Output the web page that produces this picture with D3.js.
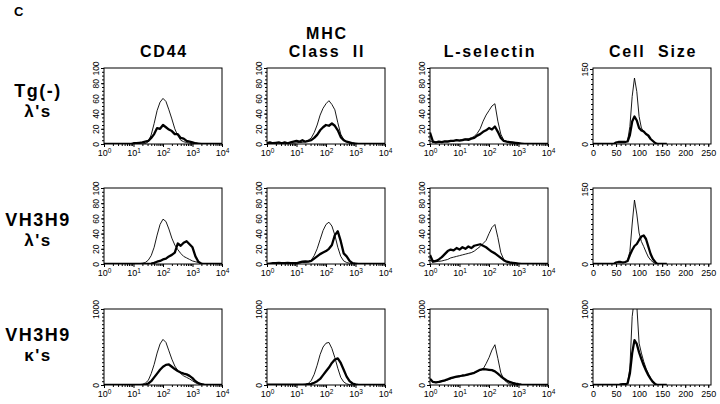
<!DOCTYPE html>
<html lang="en">
<head>
<meta charset="UTF-8">
<title>Panel C histograms</title>
<script src="https://d3js.org/d3.v7.min.js"></script>
<style>
  html, body { margin: 0; background: #fff; }
  svg { display: block; font-family: "Liberation Sans", Arial, sans-serif; }
  .title { font-weight: bold; font-size: 16px; letter-spacing: 1.8px; white-space: pre; }
  .rowlab { font-weight: bold; font-size: 18px; letter-spacing: 1.5px; }
  .tick text { font-size: 9px; fill: #000; font-family: "Liberation Sans", Arial, sans-serif; }
  .ylab .tick text { font-size: 8.5px; }
  .tick line { stroke: #000; }
</style>
</head>
<body>
<svg id="chart" width="720" height="404"></svg>
<script>
// column headers and row labels
const columnTitles = [["CD44"], ["MHC", "Class  II"], ["L-selectin"], ["Cell  Size"]];
const rowLabels = [["Tg(-)", "\u03bb's"], ["VH3H9", "\u03bb's"], ["VH3H9", "\u03ba's"]];

// channel grids: log panels 10^0..10^4 in 0.1 decade steps, cell size 0..160 in steps of 5
const logBins = d3.range(0, 41).map(i => Math.pow(10, i / 10));
const sizeBins = d3.range(0, 33).map(i => i * 5);

// row 1: Tg(-) lambda's  (thin = control, thick = stained)
const cd44TgThin   = [0,0,0,0,0,0,0,0,0,0, 0,0,0,0,0.5,3,12,27,44,55, 60,56,45,33,20,11,5,3,2,1, 0.5,0,0,0,0,0,0,0,0,0,0];
const cd44TgThick  = [0,0,0,0,0,0,0,0,0,0, 1,1,1.5,2,3,4,8,13,21,20, 25,22,19,17,13,13,8,7,4,3, 2,1,0.5,0,0,0,0,0,0,0,0];
const mhcTgThin    = [0,0.5,1,1,1.5,1,1,1,1.5,1, 1.5,2,2,3,5,8,15,25,38,47, 53,57,52,45,28,13,6,3,1,0.5, 0,0,0,0,0,0,0,0,0,0,0];
const mhcTgThick   = [1,2,1,1.5,2,1,2,1,2,3, 4,3,5,3,4,5,8,12,18,22, 25,24,27,24,18,9,5,3,2,1, 0.5,0,0,0,0,0,0,0,0,0,0];
const lselTgThin   = [4,2,2,3,3,3.5,4,4,4.5,5, 5,6,6.5,7,8,10,14,20,30,38, 44,50,53,30,13,5,3,1.5,1,0.5, 0,0,0,0,0,0,0,0,0,0,0];
const lselTgThick  = [15,3,2,3,2.5,3.5,3,4,4,5, 4.5,5,6,5.5,7,8,11,13,16,18, 21,19,23,16,8,4,3,2.5,2,1.5, 1,0.5,0,0,0,0,0,0,0,0,0];
const sizeTgThin   = [0,0,0,0,0,0,0,0,0,0, 3,4,4,4,4,6,35,95,132,105, 55,32,25,20,15,10,5,2,0,0, 0,0,0];
const sizeTgThick  = [0,0,0,0,0,0,0,0,0,0, 3,4,4,4,4,5,18,45,55,47, 32,27,25,20,17,10,6,2,0,0, 0,0,0];

// row 2: VH3H9 lambda's
const cd44LamThin  = [0,0,0,0,0,0,0,0,0,0, 0,0,0.5,1,2,5,11,22,38,52, 59,56,46,34,25,19,14,10,8,6, 4,3,2,1,0.5,0,0,0,0,0,0];
const cd44LamThick = [0,0,0,0,0,0,0,0,0,0, 0,0,0,0,0,0,0.5,1.5,3,4, 6,7,10,12,15,27,24,28,30,26, 22,10,3,0.5,0,0,0,0,0,0,0];
const mhcLamThin   = [0,0.5,0.5,0.5,0.5,1,1.5,1,1,1.5, 1,1.5,2,2,3,5,11,20,32,44, 52,55,50,38,22,10,4,2,1,0.5, 0,0,0,0,0,0,0,0,0,0,0];
const mhcLamThick  = [0,0.5,1,1,1.5,1,1,1.5,1,1, 1,2,3,3.5,3,4,7,10,13,15, 17,20,25,38,43,30,14,10,4,1, 0.5,0,0,0,0,0,0,0,0,0,0];
const lselLamThin  = [5,3,3,3.5,4,5,6,8,9,10, 11,12,13,14,15,17,20,23,27,31, 40,48,52,35,15,6,3,1.5,1,0.5, 0,0,0,0,0,0,0,0,0,0,0];
const lselLamThick = [12,3,4,6,9,13,17,19,18,21, 19,22,20,23,21,24,25,26,24,22, 19,16,14,11,8,5,3,2,1.5,1, 0.5,0,0,0,0,0,0,0,0,0,0];
const sizeLamThin  = [0,0,0,0,0,0,0,0,0,0, 3,4,4,3,4,6,25,80,128,100, 62,45,35,24,14,8,4,1,0,0, 0,0,0];
const sizeLamThick = [0,0,0,0,0,0,0,0,0,0, 3,4,4,3,4,6,18,28,36,40, 48,55,57,50,35,20,10,4,0,0, 0,0,0];

// row 3: VH3H9 kappa's
const cd44KapThin  = [0,0,0,0,0,0,0,0,0,0, 0,0,5,10,25,60,150,270,420,540, 600,560,450,340,250,190,150,120,100,80, 55,30,12,5,2,0,0,0,0,0,0];
const cd44KapThick = [0,0,0,0,0,0,0,0,0,0, 0,0,0,0,5,20,50,100,150,200, 240,265,270,240,210,185,165,150,140,120, 90,50,25,10,5,2,0,0,0,0,0];
const mhcKapThin   = [5,4,5,6,5,4,5,6,5,5, 6,5,6,10,20,60,140,260,400,500, 550,560,480,360,220,100,40,15,5,2, 0,0,0,0,0,0,0,0,0,0,0];
const mhcKapThick  = [5,5,6,5,4,5,6,5,5,6, 5,6,5,5,10,15,30,50,80,130, 180,230,290,335,350,290,200,110,50,20, 8,3,0,0,0,0,0,0,0,0,0];
const lselKapThin  = [80,40,30,35,45,55,65,80,95,105, 115,120,125,135,145,160,175,195,210,280, 360,460,530,350,160,80,35,15,8,4, 2,0,0,0,0,0,0,0,0,0,0];
const lselKapThick = [80,40,35,40,50,60,75,90,100,110, 115,125,130,140,150,160,180,200,210,205, 200,195,180,150,115,85,60,40,28,18, 10,5,2,0,0,0,0,0,0,0,0];
const sizeKapThin  = [0,0,0,0,0,0,0,0,0,0, 0,0,8,10,10,25,220,900,1150,1050, 550,420,310,220,150,90,45,15,0,0, 0,0,0];
const sizeKapThick = [0,0,0,0,0,0,0,0,0,0, 0,0,8,10,10,20,150,420,590,540, 430,340,260,190,130,80,40,12,0,0, 0,0,0];

const panelSeries = [
  [[cd44TgThin, cd44TgThick], [mhcTgThin, mhcTgThick], [lselTgThin, lselTgThick], [sizeTgThin, sizeTgThick]],
  [[cd44LamThin, cd44LamThick], [mhcLamThin, mhcLamThick], [lselLamThin, lselLamThick], [sizeLamThin, sizeLamThick]],
  [[cd44KapThin, cd44KapThick], [mhcKapThin, mhcKapThick], [lselKapThin, lselKapThick], [sizeKapThin, sizeKapThick]]
];

// y axis per row / column type
const yLogRows = [
  { max: 100, major: [0, 20, 40, 60, 80, 100], minor: d3.range(0, 101, 5) },
  { max: 100, major: [0, 20, 40, 60, 80, 100], minor: d3.range(0, 101, 5) },
  { max: 1000, major: [0, 1000], minor: d3.range(0, 1001, 50) }
];
const ySizeRows = [
  { max: 152, major: [0, 150], minor: d3.range(0, 151, 10) },
  { max: 152, major: [0, 150], minor: d3.range(0, 151, 10) },
  { max: 1000, major: [0, 1000], minor: d3.range(0, 1001, 50) }
];
const logMajor = [1, 10, 100, 1000, 10000];
const logMinor = d3.range(0, 4).flatMap(e => d3.range(2, 10).map(m => m * Math.pow(10, e)));
const sizeMajor = [0, 50, 100, 150, 200, 250];
const sizeMinor = d3.range(0, 256, 10);

const svg = d3.select("#chart");
const colLeft = [104, 267, 430, 593];
const rowTop = [68, 188, 309];
const pw = 118, ph = 76;

// letter
svg.append("text").attr("x", 14).attr("y", 16)
  .style("font-weight", "bold").style("font-size", "13px").text("C");

// column titles
columnTitles.forEach((lines, c) => {
  const t = svg.append("text").attr("class", "title")
    .attr("text-anchor", "middle")
    .attr("x", colLeft[c] + pw / 2);
  lines.forEach((s, i) => {
    t.append("tspan").attr("x", colLeft[c] + pw / 2 + 1)
      .attr("y", 57 - (lines.length - 1 - i) * 18).text(s);
  });
});

// row labels
rowLabels.forEach((lines, r) => {
  const base = [97, 226, 341][r];
  lines.forEach((s, i) => {
    svg.append("text").attr("class", "rowlab")
      .attr("text-anchor", "middle")
      .attr("x", 38).attr("y", base + i * 20)
      .style("font-size", i === 1 ? "17px" : null)
      .text(s);
  });
});

panelSeries.forEach((rowSeries, r) => {
  rowSeries.forEach((series, c) => {
    const isSize = c === 3;
    const g = svg.append("g").attr("transform", `translate(${colLeft[c]},${rowTop[r]})`);
    const x = isSize
      ? d3.scaleLinear().domain([0, 256]).range([0, pw])
      : d3.scaleLog().domain([1, 10000]).range([0, pw]);
    const yc = isSize ? ySizeRows[r] : yLogRows[r];
    const y = d3.scaleLinear().domain([0, yc.max]).range([ph, 0]);
    const bins = isSize ? sizeBins : logBins;

    const clipId = `clip-${r}-${c}`;
    g.append("clipPath").attr("id", clipId)
      .append("rect").attr("width", pw).attr("height", ph);

    // minor ticks
    g.append("g").attr("transform", `translate(0,${ph})`)
      .call(d3.axisBottom(x).tickValues(isSize ? sizeMinor : logMinor).tickSize(2).tickFormat(""))
      .call(a => a.select(".domain").remove());
    g.append("g")
      .call(d3.axisLeft(y).tickValues(yc.minor).tickSize(2).tickFormat(""))
      .call(a => a.select(".domain").remove());

    // major ticks + labels
    const xa = g.append("g").attr("transform", `translate(0,${ph})`)
      .call(d3.axisBottom(x).tickValues(isSize ? sizeMajor : logMajor).tickSize(3)
        .tickFormat(d => isSize ? d : "10"))
      .call(a => a.select(".domain").remove());
    xa.selectAll(".tick text").attr("y", 6);
    if (!isSize) {
      xa.selectAll(".tick text").each(function (d) {
        d3.select(this).append("tspan")
          .attr("dy", "-0.5em").style("font-size", "6.5px")
          .text(Math.round(Math.log10(d)));
      });
    }
    g.append("g").attr("class", "ylab")
      .call(d3.axisLeft(y).tickValues(yc.major).tickSize(3).tickFormat(d3.format("d")))
      .call(a => a.select(".domain").remove())
      .selectAll(".tick text")
      .attr("transform", "rotate(-90)")
      .attr("x", 0).attr("y", -5).attr("dy", 0)
      .attr("text-anchor", "middle");

    // histograms
    const line = d3.line().x((d, i) => x(bins[i])).y(d => y(d));
    const lines = g.append("g").attr("clip-path", `url(#${clipId})`);
    lines.append("path").datum(series[0])
      .attr("d", line).attr("fill", "none")
      .attr("stroke", "#000").attr("stroke-width", 0.9).attr("stroke-linejoin", "round");
    lines.append("path").datum(series[1])
      .attr("d", line).attr("fill", "none")
      .attr("stroke", "#000").attr("stroke-width", 2.3).attr("stroke-linejoin", "round");

    // frame
    g.append("rect").attr("width", pw).attr("height", ph)
      .attr("fill", "none").attr("stroke", "#000").attr("stroke-width", 1);
  });
});
</script>
</body>
</html>
